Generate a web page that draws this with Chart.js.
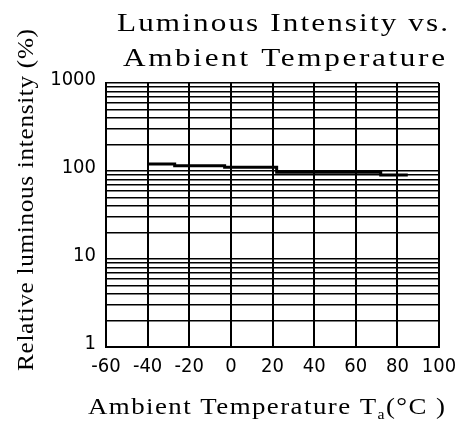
<!DOCTYPE html>
<html><head><meta charset="utf-8">
<script src="https://cdn.jsdelivr.net/npm/chart.js@4.4.0/dist/chart.umd.min.js"></script>
<style>html,body{margin:0;padding:0;background:#fff}#wrap{width:455px;height:423px}</style>
</head><body><div id="wrap"><canvas id="c" width="455" height="423"></canvas></div>
<script>
const titleLines = ['Luminous Intensity vs.', 'Ambient Temperature'];
const yTitle = 'Relative luminous intensity (%)';
const xTitleMain = 'Ambient Temperature T';
const xTitleSub = 'a';
const xTitleTail = '(°C )';
const temps = [-40, -27, -27, -3, -3, 22, 22, 72, 72, 85];
const intensity = [120, 120, 115, 115, 110, 110, 97, 97, 90, 90];
const xTicks = [-60, -40, -20, 0, 20, 40, 60, 80, 100];
const yLabelTicks = [1, 10, 100, 1000];

const SERIF = '"Liberation Serif", "Times New Roman", serif';
const NARROW = '"Liberation Sans Narrow", "DejaVu Sans Condensed", sans-serif';

function drawSpaced(ctx, parts, x, y, target, hs) {
  ctx.letterSpacing = '0px';
  let w = 0, n = 0;
  parts.forEach(p => { ctx.font = p.font; w += ctx.measureText(p.text).width; n += p.text.length; });
  const s = Math.max(0, (target / hs - w) / Math.max(1, n - 1));
  ctx.save();
  ctx.translate(x, y);
  ctx.scale(hs, 1);
  ctx.letterSpacing = s + 'px';
  let cx = 0;
  parts.forEach(p => {
    ctx.font = p.font;
    ctx.fillText(p.text, cx, p.dy || 0);
    cx += ctx.measureText(p.text).width;
  });
  ctx.restore();
  ctx.letterSpacing = '0px';
}

const titlesPlugin = {
  id: 'titles',
  afterDraw(chart) {
    const ctx = chart.ctx;
    ctx.save();
    ctx.fillStyle = '#000';
    ctx.textAlign = 'left';
    ctx.textBaseline = 'alphabetic';
    const f1 = '26px ' + SERIF;
    drawSpaced(ctx, [{text: titleLines[0], font: f1}], 117, 31, 331, 1.2);
    drawSpaced(ctx, [{text: titleLines[1], font: f1}], 123, 66, 322, 1.2);
    const fx = '24px ' + SERIF;
    const fs = '14px ' + SERIF;
    drawSpaced(ctx, [
      {text: xTitleMain, font: fx},
      {text: xTitleSub, font: fs, dy: 5},
      {text: xTitleTail, font: fx}
    ], 88, 414, 357, 1.12);
    ctx.translate(33, 200);
    ctx.rotate(-Math.PI / 2);
    drawSpaced(ctx, [{text: yTitle, font: '24px ' + SERIF}], -171, 0, 342, 1.05);
    ctx.restore();
  }
};

const ctx = document.getElementById('c').getContext('2d');
new Chart(ctx, {
  type: 'line',
  data: {
    datasets: [{
      data: temps.map((t, i) => ({x: t, y: intensity[i]})),
      borderColor: '#000',
      borderWidth: 3,
      pointRadius: 0,
      fill: false,
      tension: 0
    }]
  },
  options: {
    responsive: false,
    animation: false,
    layout: {padding: {top: 83, right: 16, bottom: 0, left: 0}},
    plugins: {legend: {display: false}, tooltip: {enabled: false}, title: {display: false}},
    scales: {
      x: {
        type: 'linear', min: -60, max: 100,
        afterBuildTicks: s => { s.ticks = xTicks.map(v => ({value: v})); },
        afterFit: s => { s.height = 76; s.paddingLeft = 0; s.paddingRight = 0; },
        grid: {color: '#000', lineWidth: 2, drawTicks: false},
        border: {color: '#000', width: 2},
        ticks: {color: '#000', font: {family: NARROW, size: 20}, padding: 8, maxRotation: 0, autoSkip: false}
      },
      y: {
        type: 'logarithmic', min: 1, max: 1000,
        afterBuildTicks: s => {
          const t = [];
          for (let e = 0; e < 3; e++) for (let d = 1; d < 10; d++) t.push({value: d * Math.pow(10, e)});
          t.push({value: 1000});
          s.ticks = t;
        },
        afterFit: s => { s.width = 106; s.paddingTop = 0; s.paddingBottom = 0; },
        grid: {color: '#000', lineWidth: 1.4, drawTicks: false},
        border: {color: '#000', width: 2},
        ticks: {
          color: '#000', font: {family: NARROW, size: 20}, padding: 10, autoSkip: false, labelOffset: -3,
          callback: v => yLabelTicks.includes(v) ? String(v) : ''
        }
      }
    }
  },
  plugins: [titlesPlugin]
});
</script>
</body></html>
